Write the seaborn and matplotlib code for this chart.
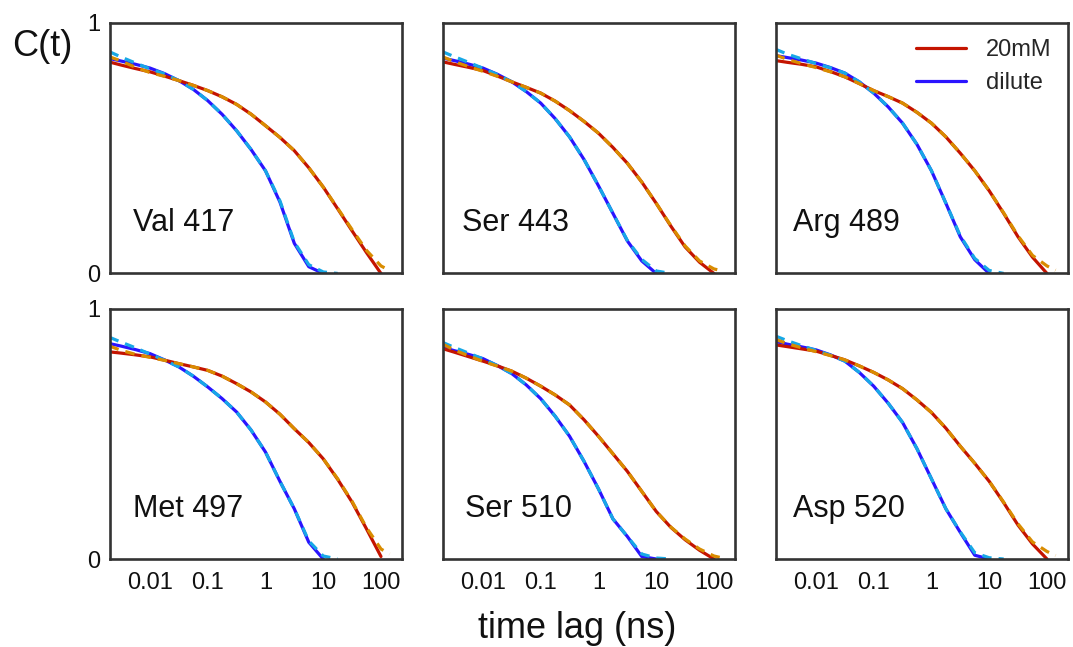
import numpy as np
import pandas as pd
import matplotlib
matplotlib.use("Agg")
import matplotlib.pyplot as plt
from matplotlib.lines import Line2D
import seaborn as sns

# ---------------- data ----------------
PANELS = ["Val 417", "Ser 443", "Arg 489", "Met 497", "Ser 510", "Asp 520"]

# time lag grid (ns), quarter-decade steps
T = [0.002, 0.00316, 0.00562, 0.01, 0.0178, 0.0316, 0.0562, 0.1, 0.178, 0.316,
     0.562, 1, 1.78, 3.16, 5.62, 10, 17.8, 31.6, 56.2, 100]
T_DILUTE = [0.002, 0.00316, 0.00562, 0.01, 0.0178, 0.0316, 0.0562, 0.1, 0.178,
            0.316, 0.562, 1, 1.78, 3.16, 5.62, 10]
T_FIT_20MM = [0.002, 0.00316, 0.00562, 0.01, 0.0178, 0.0316, 0.0562, 0.1, 0.178,
              0.316, 0.562, 1, 1.78, 3.16, 5.62, 10, 17.8, 31.6, 56.2, 100, 141]
T_FIT_DILUTE = [0.002, 0.00316, 0.00562, 0.01, 0.0178, 0.0316, 0.0562, 0.1, 0.178,
                0.316, 0.562, 1, 1.78, 3.16, 5.62, 10, 17.8]

# C(t) at 20mM, one list per panel
C_20MM = [
    [0.844, 0.832, 0.818, 0.805, 0.788, 0.770, 0.751, 0.730, 0.705, 0.675,
     0.636, 0.590, 0.543, 0.490, 0.422, 0.345, 0.258, 0.170, 0.083, 0.000],
    [0.845, 0.835, 0.823, 0.810, 0.788, 0.765, 0.743, 0.720, 0.688, 0.650,
     0.607, 0.560, 0.503, 0.440, 0.365, 0.280, 0.190, 0.106, 0.045, 0.000],
    [0.850, 0.843, 0.835, 0.825, 0.806, 0.785, 0.758, 0.730, 0.706, 0.680,
     0.643, 0.600, 0.545, 0.480, 0.410, 0.330, 0.240, 0.146, 0.065, 0.000],
    [0.827, 0.822, 0.815, 0.807, 0.794, 0.780, 0.767, 0.753, 0.730, 0.700,
     0.667, 0.627, 0.578, 0.520, 0.465, 0.400, 0.318, 0.227, 0.120, 0.010],
    [0.840, 0.826, 0.808, 0.790, 0.771, 0.750, 0.722, 0.690, 0.655, 0.615,
     0.556, 0.490, 0.420, 0.350, 0.270, 0.190, 0.127, 0.077, 0.035, 0.000],
    [0.855, 0.848, 0.839, 0.830, 0.813, 0.795, 0.771, 0.745, 0.715, 0.680,
     0.635, 0.585, 0.522, 0.450, 0.382, 0.310, 0.225, 0.135, 0.060, 0.000],
]
# C(t) dilute, one list per panel
C_DILUTE = [
    [0.858, 0.848, 0.835, 0.820, 0.798, 0.770, 0.735, 0.690, 0.635, 0.570,
     0.495, 0.410, 0.285, 0.120, 0.027, 0.000],
    [0.860, 0.850, 0.836, 0.820, 0.795, 0.765, 0.726, 0.680, 0.618, 0.545,
     0.455, 0.350, 0.240, 0.130, 0.050, 0.000],
    [0.870, 0.862, 0.852, 0.840, 0.822, 0.800, 0.765, 0.720, 0.665, 0.600,
     0.515, 0.410, 0.280, 0.146, 0.055, 0.000],
    [0.860, 0.850, 0.836, 0.820, 0.795, 0.767, 0.730, 0.687, 0.640, 0.587,
     0.515, 0.427, 0.310, 0.200, 0.067, 0.000],
    [0.845, 0.832, 0.817, 0.800, 0.772, 0.740, 0.695, 0.640, 0.570, 0.490,
     0.390, 0.280, 0.160, 0.090, 0.010, 0.000],
    [0.868, 0.858, 0.847, 0.835, 0.815, 0.790, 0.745, 0.690, 0.622, 0.545,
     0.440, 0.320, 0.200, 0.106, 0.015, 0.000],
]
# fitted curves (dashed)
FIT_20MM = [
    [0.865, 0.848, 0.823, 0.802, 0.787, 0.770, 0.751, 0.730, 0.705, 0.675, 0.636,
     0.590, 0.543, 0.490, 0.422, 0.345, 0.260, 0.175, 0.092, 0.030, 0.012],
    [0.865, 0.846, 0.826, 0.807, 0.787, 0.765, 0.743, 0.720, 0.688, 0.650, 0.607,
     0.560, 0.503, 0.440, 0.365, 0.280, 0.192, 0.110, 0.050, 0.018, 0.010],
    [0.872, 0.855, 0.838, 0.822, 0.805, 0.785, 0.758, 0.730, 0.706, 0.680, 0.643,
     0.600, 0.545, 0.480, 0.410, 0.330, 0.242, 0.150, 0.072, 0.030, 0.013],
    [0.850, 0.833, 0.817, 0.805, 0.793, 0.780, 0.767, 0.753, 0.730, 0.700, 0.667,
     0.627, 0.578, 0.520, 0.465, 0.400, 0.320, 0.230, 0.125, 0.040, 0.020],
    [0.858, 0.835, 0.811, 0.789, 0.770, 0.750, 0.722, 0.690, 0.655, 0.615, 0.556,
     0.490, 0.420, 0.350, 0.270, 0.190, 0.128, 0.080, 0.040, 0.012, 0.004],
    [0.877, 0.860, 0.843, 0.828, 0.812, 0.795, 0.771, 0.745, 0.715, 0.680, 0.635,
     0.585, 0.522, 0.450, 0.382, 0.310, 0.227, 0.140, 0.068, 0.030, 0.014],
]
FIT_DILUTE = [
    [0.885, 0.864, 0.840, 0.817, 0.797, 0.770, 0.735, 0.690, 0.635, 0.570, 0.495,
     0.410, 0.290, 0.125, 0.035, 0.006, 0.000],
    [0.885, 0.866, 0.843, 0.819, 0.794, 0.765, 0.726, 0.680, 0.618, 0.545, 0.455,
     0.350, 0.240, 0.132, 0.056, 0.010, 0.000],
    [0.895, 0.876, 0.857, 0.838, 0.821, 0.800, 0.765, 0.720, 0.665, 0.600, 0.515,
     0.410, 0.280, 0.150, 0.060, 0.012, 0.000],
    [0.885, 0.866, 0.843, 0.818, 0.794, 0.767, 0.730, 0.687, 0.640, 0.587, 0.515,
     0.427, 0.310, 0.200, 0.072, 0.012, 0.000],
    [0.865, 0.845, 0.822, 0.799, 0.772, 0.740, 0.695, 0.640, 0.570, 0.490, 0.390,
     0.280, 0.160, 0.090, 0.020, 0.004, 0.000],
    [0.890, 0.872, 0.852, 0.833, 0.814, 0.790, 0.745, 0.690, 0.622, 0.545, 0.440,
     0.320, 0.200, 0.108, 0.025, 0.005, 0.000],
]

X_TICKS = [0.01, 0.1, 1, 10, 100]
X_TICK_LABELS = ["0.01", "0.1", "1", "10", "100"]
Y_TICKS = [0, 1]
Y_TICK_LABELS = ["0", "1"]
LEGEND_LABELS = ["20mM", "dilute"]

# ---------------- styling ----------------
LABEL_X = [0.079, 0.065, 0.058, 0.079, 0.075, 0.058]
RED = "#C41400"
BLUE = "#2A14FF"
ORANGE = "#D98C00"
CYAN = "#17A8E6"
SPINE = "#333333"
TXT = "#111111"

sns.set_style("white")
plt.rcParams["font.family"] = ["Liberation Sans", "DejaVu Sans"]

fig, axes = plt.subplots(2, 3, figsize=(10.73, 6.47), dpi=100, sharex=True, sharey=True)
fig.subplots_adjust(left=0.1025, right=0.9953, top=0.9645, bottom=0.136,
                    wspace=0.1404, hspace=0.14)

LW = 2.3
DASH = (0, (3.0, 2.2))
for i, ax in enumerate(axes.flat):
    d20 = pd.DataFrame({"t": T, "C": C_20MM[i]})
    ddil = pd.DataFrame({"t": T_DILUTE, "C": C_DILUTE[i]})
    f20 = pd.DataFrame({"t": T_FIT_20MM, "C": FIT_20MM[i]})
    fdil = pd.DataFrame({"t": T_FIT_DILUTE, "C": FIT_DILUTE[i]})
    sns.lineplot(data=ddil, x="t", y="C", ax=ax, color=BLUE, linewidth=LW,
                 estimator=None, sort=False)
    sns.lineplot(data=d20, x="t", y="C", ax=ax, color=RED, linewidth=LW,
                 estimator=None, sort=False)
    sns.lineplot(data=fdil, x="t", y="C", ax=ax, color=CYAN, linewidth=LW,
                 linestyle=DASH, estimator=None, sort=False)
    sns.lineplot(data=f20, x="t", y="C", ax=ax, color=ORANGE, linewidth=LW,
                 linestyle=DASH, estimator=None, sort=False)

    ax.set_xscale("log")
    ax.set_xlim(0.00203, 231)
    ax.set_ylim(0, 1)
    ax.set_xlabel("")
    ax.set_ylabel("")
    ax.set_xticks(X_TICKS)
    ax.set_xticklabels(X_TICK_LABELS)
    ax.set_yticks(Y_TICKS)
    ax.set_yticklabels(Y_TICK_LABELS)
    ax.minorticks_off()
    ax.tick_params(axis="both", length=0, labelsize=17, colors=TXT)
    ax.tick_params(axis="x", pad=9)
    ax.tick_params(axis="y", pad=7)
    for s in ax.spines.values():
        s.set_visible(True)
        s.set_color(SPINE)
        s.set_linewidth(1.9)
        s.set_zorder(5)
    ax.text(LABEL_X[i], 0.2, PANELS[i], transform=ax.transAxes, fontsize=22,
            ha="left", va="center", color=TXT)

for ax in axes[0, :]:
    ax.tick_params(axis="x", labelbottom=False)
for ax in axes[:, 1:].flat:
    ax.tick_params(axis="y", labelleft=False)

handles = [Line2D([], [], color=RED, linewidth=LW),
           Line2D([], [], color=BLUE, linewidth=LW)]
axes[0, 2].legend(handles, LEGEND_LABELS, loc="upper right", frameon=False,
                  fontsize=17, handlelength=2.1, handletextpad=0.85,
                  labelspacing=0.45, borderaxespad=0.3,
                  bbox_to_anchor=(1.0, 1.0))

fig.text(42 / 1073, 1 - 47 / 647, "C(t)", fontsize=26, ha="center", va="center",
         color=TXT)
fig.text(577 / 1073, 1 - 628 / 647, "time lag (ns)", fontsize=26, ha="center",
         va="center", color=TXT)

fig.savefig("out.png", dpi=100)
